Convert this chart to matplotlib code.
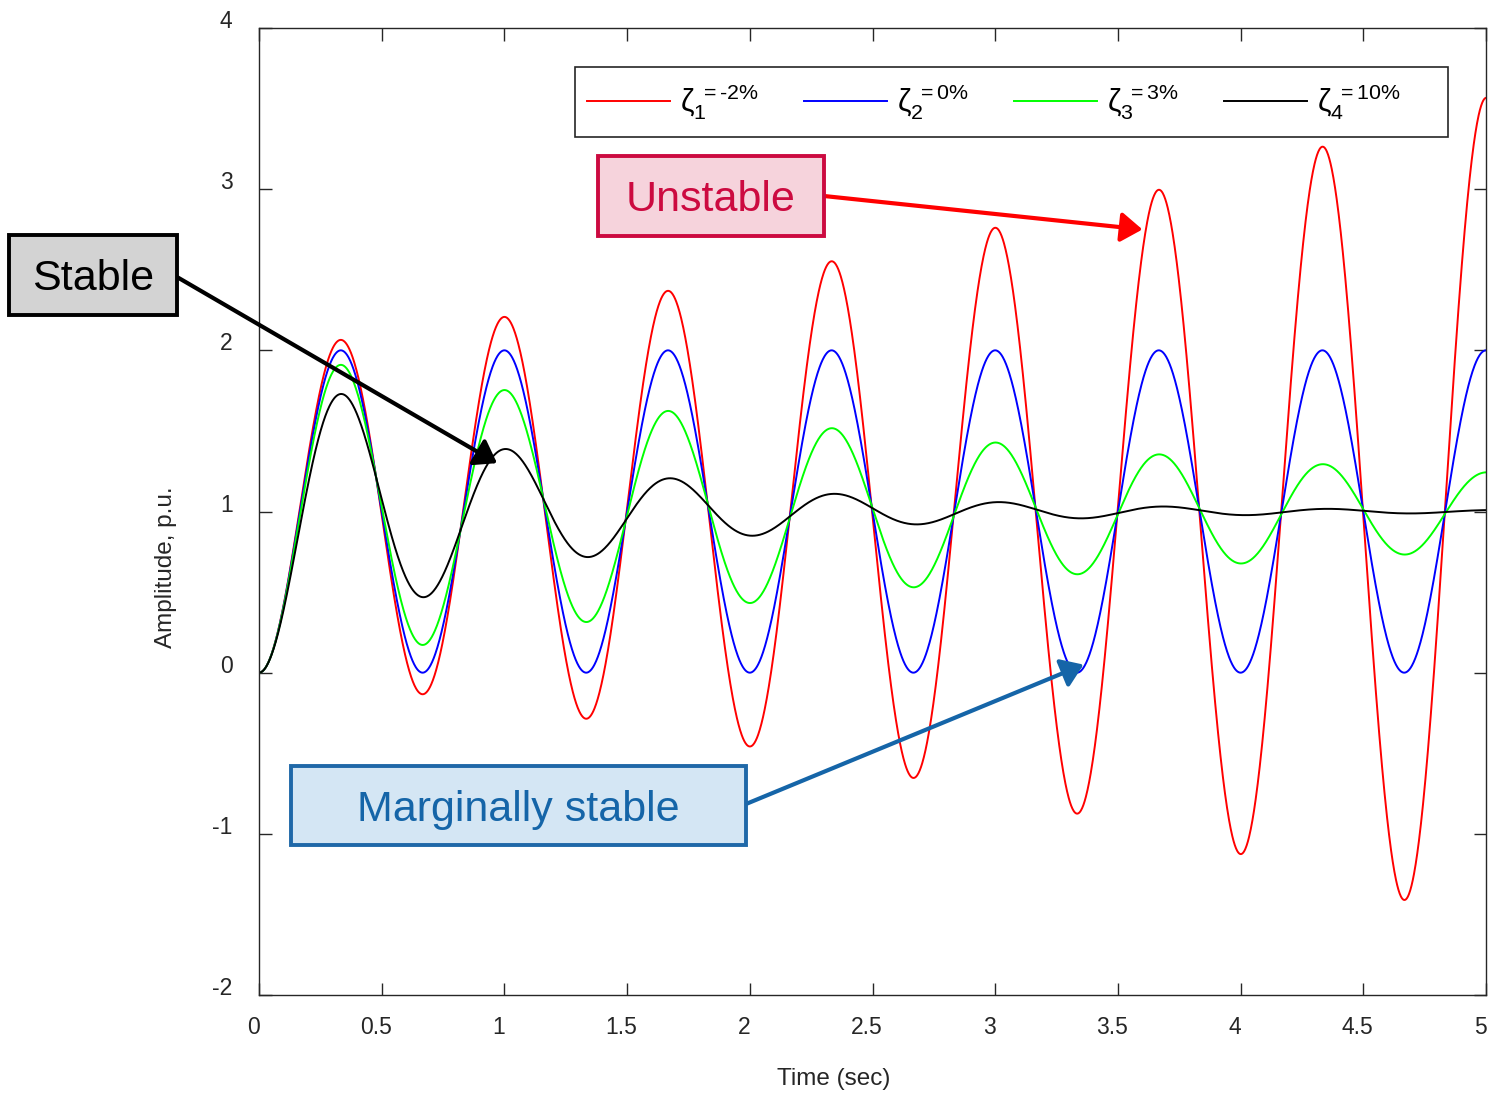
import numpy as np
import matplotlib
matplotlib.use("Agg")
import matplotlib.pyplot as plt
from matplotlib.patches import Rectangle
from matplotlib.transforms import ScaledTranslation

plt.rcParams['font.family'] = ['Liberation Sans', 'DejaVu Sans']
plt.rcParams['mathtext.fontset'] = 'custom'
plt.rcParams['mathtext.rm'] = 'Liberation Sans'
plt.rcParams['mathtext.it'] = 'Liberation Sans:italic'
plt.rcParams['axes.unicode_minus'] = False

# ---- data ----
damping = [-0.02, 0.00, 0.03, 0.10]
labels = [r'$\mathrm{\zeta}_1^{\ \mathrm{{=}‐2\%}}$', r'$\mathrm{\zeta}_2^{\ \mathrm{{=}0\%}}$',
          r'$\mathrm{\zeta}_3^{\ \mathrm{{=}3\%}}$', r'$\mathrm{\zeta}_4^{\ \mathrm{{=}10\%}}$']
colors = ['#FF0000', '#0000FF', '#00FF00', '#000000']
wn = 3 * np.pi          # natural frequency, rad/s
t = np.linspace(0, 5, 3000)
xticks = [0, 0.5, 1, 1.5, 2, 2.5, 3, 3.5, 4, 4.5, 5]
xticklabels = ['0', '0.5', '1', '1.5', '2', '2.5', '3', '3.5', '4', '4.5', '5']
yticks = [-2, -1, 0, 1, 2, 3, 4]


def step(z):
    wd = wn * np.sqrt(1 - z ** 2)
    return 1 - np.exp(-z * wn * t) / np.sqrt(1 - z ** 2) * np.sin(wd * t + np.arccos(z))


W, H = 1488, 1095
fig = plt.figure(figsize=(W / 100, H / 100), dpi=100)
ax = fig.add_axes([259 / W, (H - 995) / H, 1227 / W, 967 / H])

for z, lab, c in zip(damping, labels, colors):
    ax.plot(t, step(z), color=c, lw=1.4, label=lab)

ax.set_xlim(0, 5)
ax.set_ylim(-2, 4)
ax.set_xticks(xticks)
ax.set_xticklabels(xticklabels)
ax.set_yticks(yticks)
for sp in ax.spines.values():
    sp.set_color('#262626')
    sp.set_linewidth(1.0)
ax.tick_params(direction='in', length=9, width=1.0, color='#262626',
               top=True, right=True, labelsize=16.5, labelcolor='#262626')
ax.tick_params(axis='x', pad=15)
ax.tick_params(axis='y', pad=19)
for lbl in ax.get_xticklabels():
    lbl.set_transform(lbl.get_transform() + ScaledTranslation(-6 / 100, 0, fig.dpi_scale_trans))
for lbl in ax.get_yticklabels():
    lbl.set_transform(lbl.get_transform() + ScaledTranslation(0, 9 / 100, fig.dpi_scale_trans))

ax.set_xlabel('Time (sec)', fontsize=17.5, color='#262626')
ax.xaxis.set_label_coords((834 - 259) / 1227, -(1068 - 995) / 967)
ax.set_ylabel('Amplitude, p.u.', fontsize=17.5, color='#262626')
ax.yaxis.set_label_coords(-(259 - 177) / 1227, (995 - 567) / 967)

# legend frame + entries
ax.add_patch(Rectangle(((575 - 259) / 1227, (995 - 137) / 967), 873 / 1227, 70 / 967,
                       transform=ax.transAxes, facecolor='white', edgecolor='#262626',
                       lw=1.2, zorder=4.5))
leg = ax.legend(loc='center left', bbox_to_anchor=((587 - 259) / 1227, (995 - 102) / 967),
                ncol=4, fontsize=22, handlelength=2.71, handletextpad=0.33,
                columnspacing=1.5, frameon=False, borderaxespad=0, borderpad=0)
leg.set_zorder(5)


def px2fig(x0, y0, x1, y1):
    return (x0 / W, 1 - y1 / H, (x1 - x0) / W, (y1 - y0) / H)


def box(x0, y0, x1, y1, text, fc, ec, tc):
    l, b, w, h = px2fig(x0, y0, x1, y1)
    fig.patches.append(Rectangle((l, b), w, h, transform=fig.transFigure,
                                 facecolor=fc, edgecolor=ec, lw=2.8, zorder=5))
    fig.text(l + w / 2, b + h / 2 - 4 / H, text, ha='center', va='center', fontsize=31,
             color=tc, zorder=6)


def arrow(x0, y0, tip_data, color):
    ax.annotate('', xy=tip_data, xycoords='data',
                xytext=(x0, H - y0), textcoords='figure pixels',
                arrowprops=dict(arrowstyle='-|>,head_length=0.65,head_width=0.45',
                                mutation_scale=20, color=color, lw=3,
                                shrinkA=0, shrinkB=0),
                annotation_clip=False, zorder=7)


box(598, 156, 824, 236, 'Unstable', '#F6D3DC', '#CC0A40', '#CC0A40')
arrow(824, 196, (3.60, 2.75), '#FF0000')

box(9, 235, 177, 315, 'Stable', '#D3D3D3', '#000000', '#000000')
arrow(177, 277, (0.97, 1.30), '#000000')

box(291, 766, 746, 845, 'Marginally stable', '#D4E6F4', '#1F68A8', '#1565A8')
arrow(746, 804, (3.36, 0.05), '#1565A8')

fig.savefig('out.png', dpi=100)
